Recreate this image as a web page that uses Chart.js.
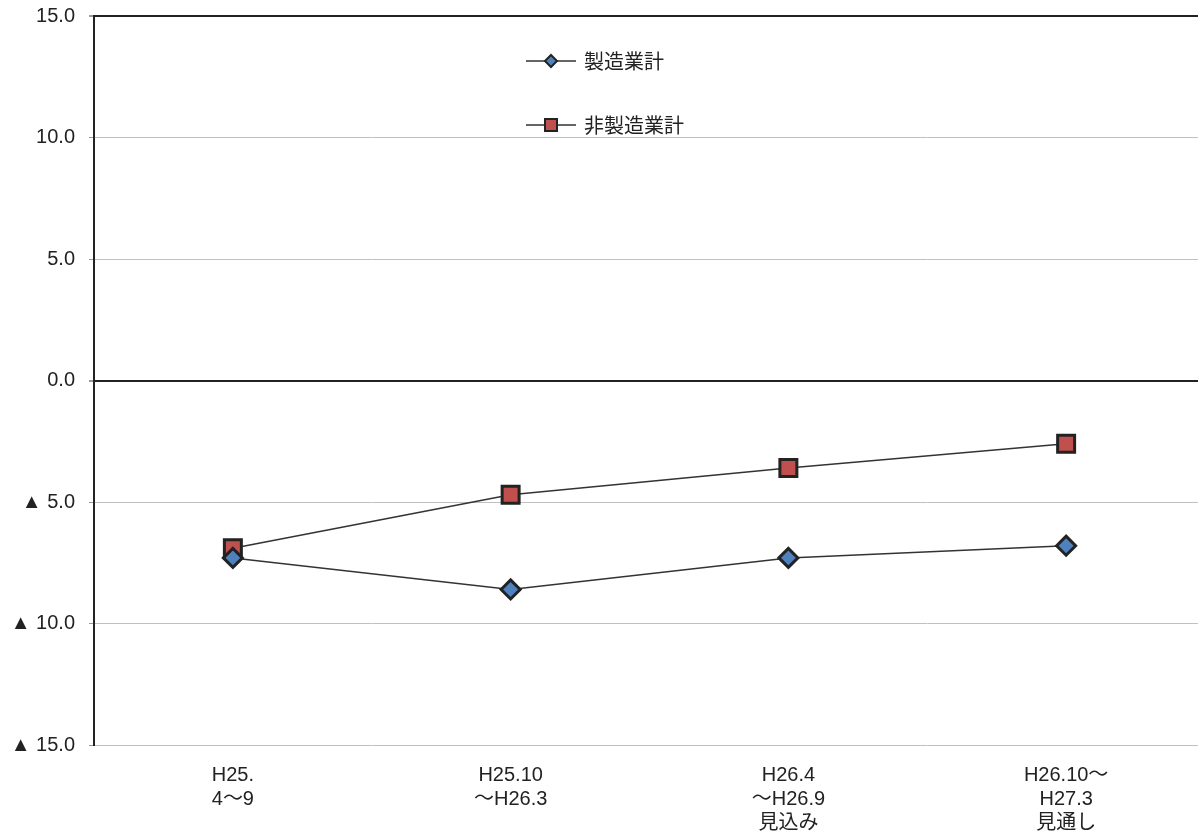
<!DOCTYPE html>
<html>
<head>
<meta charset="utf-8">
<script src="https://cdn.jsdelivr.net/npm/chart.js@4/dist/chart.umd.min.js"></script>
<style>
  html, body { margin: 0; padding: 0; background: #fff; overflow: hidden; }
  #wrap { width: 1198px; height: 837px; overflow: hidden; position: relative; }
  #chart { position: absolute; left: 0; top: -10px; }
</style>
</head>
<body>
<div id="wrap"><canvas id="chart" width="1220" height="855"></canvas></div>
<script>
const categories = [
    ["H25.", "4～9"],
    ["H25.10", "～H26.3"],
    ["H26.4", "～H26.9", "見込み"],
    ["H26.10～", "H27.3", "見通し"]
];
const seriesNames = ["製造業計", "非製造業計"];
const manufacturing = [-7.3, -8.6, -7.3, -6.8];
const nonManufacturing = [-6.9, -4.7, -3.6, -2.6];
const yTicks = [15, 10, 5, 0, -5, -10, -15];

const latin = "'Liberation Sans', Arial, 'Noto Sans CJK JP', sans-serif";

// legend drawn like the original: short line with a marker in the middle
// (canvas is shifted up 10px, so page y = canvas y - 10)
const legendPlugin = {
    id: "lineLegend",
    afterDraw(chart) {
        const ctx = chart.ctx;
        const rows = [71, 135];
        chart.data.datasets.forEach((ds, i) => {
            const y = rows[i];
            ctx.save();
            ctx.strokeStyle = "#333";
            ctx.lineWidth = 1.5;
            ctx.beginPath();
            ctx.moveTo(526, y);
            ctx.lineTo(576, y);
            ctx.stroke();
            ctx.fillStyle = ds.pointBackgroundColor;
            ctx.strokeStyle = "#222";
            ctx.lineWidth = 2;
            ctx.beginPath();
            if (ds.pointStyle === "rectRot") {
                ctx.moveTo(551, y - 6);
                ctx.lineTo(557, y);
                ctx.lineTo(551, y + 6);
                ctx.lineTo(545, y);
                ctx.closePath();
            } else {
                ctx.rect(545, y - 6, 12, 12);
            }
            ctx.fill();
            ctx.stroke();
            ctx.fillStyle = "#222";
            ctx.font = "20px 'Noto Sans CJK JP', sans-serif";
            ctx.textBaseline = "middle";
            ctx.fillText(ds.label, 584, y);
            ctx.restore();
        });
    }
};

new Chart(document.getElementById("chart"), {
    type: "line",
    data: {
        labels: categories,
        datasets: [
            {
                label: seriesNames[0],
                data: manufacturing,
                borderColor: "#333",
                borderWidth: 1.5,
                pointStyle: "rectRot",
                pointRadius: 9.5,
                pointHoverRadius: 9.5,
                pointBackgroundColor: "#4f81bd",
                pointBorderColor: "#222",
                pointBorderWidth: 3,
                tension: 0
            },
            {
                label: seriesNames[1],
                data: nonManufacturing,
                borderColor: "#333",
                borderWidth: 1.5,
                pointStyle: "rect",
                pointRadius: 12,
                pointHoverRadius: 12,
                pointBackgroundColor: "#c0504d",
                pointBorderColor: "#222",
                pointBorderWidth: 3,
                tension: 0
            }
        ]
    },
    options: {
        responsive: false,
        animation: false,
        layout: { padding: { top: 0, right: 2, left: 0, bottom: 0 } },
        plugins: {
            legend: { display: false },
            tooltip: { enabled: false }
        },
        scales: {
            x: {
                offset: true,
                grid: { display: false },
                border: { display: false },
                ticks: {
                    color: "#222",
                    font: { family: latin, size: 20, lineHeight: 1.2 },
                    maxRotation: 0,
                    padding: 10
                }
            },
            y: {
                min: -15,
                max: 15,
                afterBuildTicks(scale) {
                    scale.ticks = yTicks.map(v => ({ value: v }));
                },
                afterFit(scale) {
                    scale.width = 94;
                },
                border: { color: "#222", width: 2 },
                grid: {
                    color: ctx => (ctx.tick && (ctx.tick.value === 0 || ctx.tick.value === 15)) ? "#222" : "#c0c0c0",
                    lineWidth: ctx => (ctx.tick && (ctx.tick.value === 0 || ctx.tick.value === 15)) ? 2 : 1,
                    tickColor: "#999",
                    tickLength: 5
                },
                ticks: {
                    color: "#222",
                    font: { family: latin, size: 20 },
                    padding: 14,
                    callback: v => v < 0 ? "▲ " + Math.abs(v).toFixed(1) : v.toFixed(1)
                }
            }
        }
    },
    plugins: [legendPlugin]
});
</script>
</body>
</html>
